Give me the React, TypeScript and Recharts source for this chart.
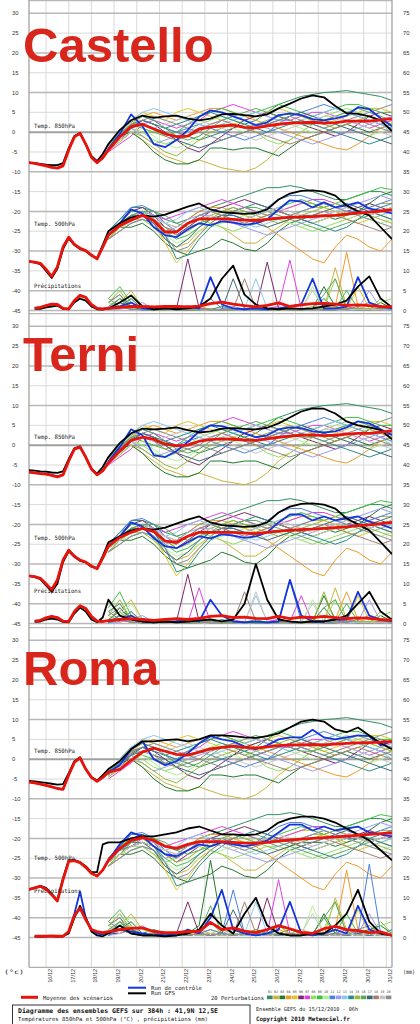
import React from 'react';
import { LineChart, Line, XAxis, YAxis, CartesianGrid } from 'recharts';

// ---------- axes / categories ----------
// x = forecast step (6 h) since 15/12/2010 06h
const STEPS = [0,1,2,3,4,5,6,7,8,9,10,11,12,13,14,16,18,20,22,24,26,28,30,32,34,36,38,40,42,44,46,48,50,52,54,56,58,60,62,64];
const PSTEPS = [14,16,18,20,22,24,26,28,30,32,34,36,38,40,42,44,46,48,50,52,54,56,58,60,62,64];
const DAY_TICKS = [3,7,11,15,19,23,27,31,35,39,43,47,51,55,59,63];
const DAY_LABELS = ['16/12','17/12','18/12','19/12','20/12','21/12','22/12','23/12','24/12','25/12','26/12','27/12','28/12','29/12','30/12','31/12'];
const T_TICKS = [30,25,20,15,10,5,0,-5,-10,-15,-20,-25,-30,-35,-40,-45];
const MM_TICKS = [75,70,65,60,55,50,45,40,35,30,25,20,15,10,5,0];
const T_LIGHT = [25,15,5,-5,-15,-25,-35];
const T_DARK = [30,20,10,-10,-20,-30,-40,-45];

// ---------- Castello ----------
const C_T850_MEAN = [-7.7,-7.9,-8.2,-8.5,-8.9,-9.1,-8.5,-4.5,-1.2,-0.3,-3,-6.3,-7.7,-6.5,-4.5, -1.2,1.4,2.0,0.8,-0.4,-1.1,-1.0,0.8,1.3,1.6, 1.8,1.2,1.1,1.6,2.0,2.3,2.4,2.5,2.3,2.4, 2.8,2.8,2.8,3.1,3.4];
const C_T850_GFS = [-7.7,-7.8,-8.0,-8.2,-8.3,-8.3,-7.8,-4,-1,-0.2,-3,-6,-7.3,-5.5,-3, 0.5,3,4.2,3.6,4,4.2,3.4,3,3.4,4.5, 4.6,4.3,4,4.5,6,7.2,8.5,9.3,8.8,6.6, 4.8,4.6,4.0,3.0,0.3];
const C_T850_CTRL = [-7.7,-7.9,-8.1,-8.4,-8.8,-9.0,-8.4,-4.4,-1.1,-0.2,-3,-6.2,-7.6,-6.4,-4.2, -0.5,4.5,1.5,-3,-3.8,-2,0.5,3.9,5.5,5, 4,3,1.7,2.5,4.3,4.7,4.3,3.3,3,3.5, 4.2,6.3,5.8,3.5,1.5];
const C_T500_MEAN = [-32.6,-32.8,-33.1,-34.6,-36.4,-34,-29,-26.5,-28.3,-29.3,-29.9,-31,-32,-29,-26, -23.6,-22.2,-21,-22.3,-25.2,-25.2,-23,-21.9,-21.9,-21.9, -22,-22.2,-22.3,-22,-21.7,-21.5,-21.4,-21.3,-21.1,-21, -20.7,-20.4,-20.2,-19.9,-19.6];
const C_T500_GFS = [-32.6,-32.9,-33.3,-35,-36.8,-34.5,-29.5,-26.8,-28.5,-29.5,-30,-31.2,-31.8,-28.5,-25, -23,-21.5,-21,-21.3,-20.8,-19.8,-18.8,-18,-19.5,-20.2, -20.4,-20.6,-20.4,-19.5,-17,-15.5,-14.8,-14.7,-15,-16, -18.5,-20,-21,-24,-27];
const C_T500_CTRL = [-32.6,-32.8,-33.1,-34.6,-36.4,-34,-29,-26.5,-28.3,-29.3,-29.9,-31,-32,-29,-26, -23,-19.5,-20.5,-24,-26,-26.5,-24.5,-23,-23.5,-22.5, -22.8,-23.4,-23,-22,-19.5,-17.2,-17.5,-19,-17.7,-19, -18.5,-17.7,-19.3,-19.8,-20.5];
const C_PR_MEAN = [null,0.6,0.8,1.2,1.6,1.5,0.5,0.4,2.5,3.8,3.3,1.5,0.5,0.4,0.6, 0.8,1.0,1.0,0.9,1.0,1.0,0.9,1.1,1.7,2.1, 1.6,1.2,0.9,1.3,1.9,1.0,1.4,1.7,1.8,1.6, 1.3,1.4,1.2,1.0,0.9];
const C_PR_GFS = [null,0.4,0.4,0.8,1.0,1.2,0.4,0.3,2,3,2.5,1,0.3,0.2,0.5, 2,3.8,1,0.3,0.5,0.3,0.5,1,3,8, 11.3,4,1.5,0.5,0.3,0.5,0.4,0.5,1,1.5, 2.5,6,8.6,3,0.8];
const C_PR_CTRL = [null,0.6,0.8,1.2,1.6,1.5,0.5,0.4,2.5,3.8,3.3,1.5,0.5,0.4,0.6, 1,2,0.5,0.3,0.5,0.5,1,0.5,8.4,1.5, 0.5,0.3,0.5,0.3,0.5,1,1.5,8,0.5,0.5, 1,8.4,2,1,0.5];

// ---------- Terni ----------
const T_T850_MEAN = [-6.8,-7,-7.2,-7.3,-7.6,-8,-7.5,-4,-1,-0.5,-3,-6,-7.5,-6.5,-4.5, -1.5,1.2,2.0,1.5,0.3,-0.2,0,1,1.4,1.6, 1.5,1.3,1.2,1.6,2.0,2.3,2.5,2.6,2.4,2.5, 2.8,3.0,3.0,3.3,3.6];
const T_T850_GFS = [-6.3,-6.4,-6.6,-6.7,-6.9,-7.0,-6.6,-3.5,-0.8,-0.3,-3,-6,-7.2,-5.5,-3, 0.5,3,4.2,4,4.2,4.5,3.8,3.2,3.5,4.2, 4.3,4.1,4,4.4,5.5,7,8.5,9.3,9.2,8, 6,5,4.5,3.8,1.5];
const T_T850_CTRL = [-6.8,-7,-7.1,-7.2,-7.5,-7.9,-7.4,-3.9,-0.9,-0.4,-3,-5.9,-7.4,-6.4,-4.2, -0.5,4,2.5,-2.5,-3,-1.5,0.8,3.5,5,4.8, 4,3,2,2.5,4,4.5,4.3,3.5,3.2,3.5, 4.5,6,5.5,4,2.5];
const T_T500_MEAN = [-33,-33.2,-33.6,-35,-36.5,-34,-29,-26.5,-28,-29,-29.5,-30.5,-31.2,-28.5,-25.5, -23.3,-22,-21,-21.8,-24.2,-24.5,-23,-22,-22,-22, -22,-22.2,-22.3,-22,-21.7,-21.5,-21.3,-21.2,-21,-20.8, -20.6,-20.3,-20.1,-19.8,-19.5];
const T_T500_GFS = [-33,-33.3,-33.8,-35.4,-37,-35,-29.5,-26.8,-28.2,-29.2,-29.6,-30.7,-31,-28,-24.5, -23,-21.5,-21,-21.3,-20.8,-19.8,-18.8,-18,-19.5,-20.2, -20.4,-20.6,-20.4,-19.5,-17,-15.5,-14.8,-14.7,-15,-16, -18.5,-20,-21.5,-24.5,-27.5];
const T_T500_CTRL = [-33,-33.2,-33.6,-35,-36.5,-34,-29,-26.5,-28,-29,-29.5,-30.5,-31.2,-28.5,-25.5, -23,-19.5,-20.5,-23.5,-25.5,-26,-24.5,-23,-23.5,-22.5, -22.8,-23.4,-23,-22,-19.5,-17.5,-17.5,-19,-18,-19, -18.5,-18,-19.3,-20,-21];
const T_PR_MEAN = [null,0.6,0.8,1.4,1.8,1.5,0.6,0.5,3,4.5,3.8,1.8,0.6,0.5,0.7, 1,1.2,1.0,0.8,1.0,1.2,1.0,1.3,1.8,2.0, 1.5,1.6,1.3,1.2,1.8,1.2,1.6,1.5,1.8,1.5, 1.2,1.4,1.3,1.0,0.8];
const T_PR_GFS = [null,0.4,0.5,1,1.2,1,0.4,0.3,2.5,4,3,1,0.3,1.5,6, 2,1,0.5,0.3,0.5,0.3,0.5,0.8,1,0.5, 1,5,15,6,1,0.5,0.3,0.5,0.5,1, 2,5,8,3,1];
const T_PR_CTRL = [null,0.6,0.8,1.4,1.8,1.5,0.6,0.5,3,4.5,3.8,1.8,0.6,0.5,0.7, 1,2,0.5,0.3,0.5,0.5,1,0.5,6,2, 0.5,0.3,0.5,0.3,0.5,11,2,0.5,0.5,1, 1,8,2,1,0.5];

// ---------- Roma ----------
const R_T850_MEAN = [-5.8,-6,-6.3,-6.6,-7,-7.4,-7.6,-4,-0.8,0.3,-2.5,-4.6,-5.6,-4.6,-3.3, -2.6,-0.3,1.8,2.8,2.0,1.2,1.0,1.8,2.6,3.0, 3.3,3.0,2.8,3.1,3.4,3.6,3.6,3.7,3.6,3.8, 4.0,4.1,4.2,4.3,4.5];
const R_T850_GFS = [-5.5,-5.6,-5.8,-6.0,-6.2,-6.4,-6.3,-3.5,-0.5,0.5,-2.5,-4.5,-5.4,-4,-2.5, -0.5,2.5,4.5,4.5,4.8,5.0,4.5,5.0,6.0,6.0, 5.8,5.5,5.4,5.8,6.5,8.0,9.5,10,9.5,7.5, 6.8,8.0,6.0,4.0,2.5];
const R_T850_CTRL = [-5.8,-6,-6.3,-6.6,-7,-7.4,-7.6,-4,-0.8,0.3,-2.5,-4.6,-5.6,-4.6,-3.3, -1.5,2.5,4.5,0,-1.5,-0.5,1.5,4,5.8,5, 4.5,3.2,2.5,3.5,5,5.5,5.5,7.4,5.5,5, 5.5,6,5.8,3.5,4.5];
const R_T500_MEAN = [-32.9,-32.5,-32.1,-32.8,-34.2,-35.8,-30.4,-25.8,-25.6,-26.1,-27.3,-28.8,-29.5,-28.0,-25.5, -22.5,-20.5,-19.8,-20.5,-22,-22.5,-21.5,-20.8,-20.8,-20.8, -21,-21.2,-21.2,-21,-20.7,-20.4,-20.2,-20,-19.8,-19.6, -19.4,-19.2,-19,-18.8,-18.6];
const R_T500_GFS = [-32.9,-32.5,-32,-32.5,-34,-35.5,-30,-25.5,-25.5,-26,-27,-28.5,-28.5,-21.5,-21, -21,-20,-19.5,-19.5,-19,-18.5,-17.5,-17,-18,-19, -19,-19.2,-19,-18,-16,-15,-14.5,-14.5,-15,-16, -17.5,-19,-20.5,-23,-25.5];
const R_T500_CTRL = [-32.9,-32.5,-32.1,-32.8,-34.2,-35.8,-30.4,-25.8,-25.6,-26.1,-27.3,-28.8,-29.5,-28.0,-25.5, -21.5,-18.5,-19.5,-22,-24,-24.5,-23,-21.5,-22,-21, -21.5,-22,-21.5,-20.5,-18.5,-16.5,-16.5,-18,-17,-18, -17.5,-17,-18.5,-19,-19.5];
const R_PR_MEAN = [null,0.3,0.3,0.3,0.4,0.3,0.3,1.5,5.5,7.4,4.5,2.0,1.5,1.2,1.5, 2,2.3,2.4,1.5,1.2,1.2,1.5,1.5,3.8,2.0, 2.4,1.6,1.2,2.0,3.0,2.2,1.3,1.0,2.2,2.8, 2.0,1.7,1.2,1.4,0.5];
const R_PR_GFS = [null,0.2,0.2,0.3,0.3,0.2,0.3,1,5,8,5,1.5,0.5,0.3,1, 3,1,0.5,0.5,0.3,0.5,1,2,6,3, 1,6,10,3,1,0.5,0.5,1,1,3, 6,12,4,1,0.5];
const R_PR_CTRL = [null,0.3,0.3,0.3,0.4,0.3,0.3,1.5,6,11.6,5,2,1,0.8,1.2, 2,1.5,1,0.5,1,0.5,2,1,5,12, 2,1,0.5,1,2,9,1,0.5,1,2, 1,8,2,1,0.5];

// ---------- 20 perturbations (temperatures, read on the spaghetti, steps PSTEPS) ----------
const T850_PERTS = [
  [-3.5,-0.5,2,3,2,1,0,-1,-2,-1,0,1,2,3,5,7,8,9,9.5,10,10.2,10.5,10,9.5,9,8],
  [-4,-2,0,-2,-4,-6,-7,-8,-7,-8,-9,-9.5,-10,-9,-7,-4,-2,0,2,3,4,5,4,3,2,3],
  [-3,-1,0,-2,-5,-7,-8,-8,-7,-4,-4,-4.5,-4,-4,-5,-6,-4,-2,-1,0,1,2,1,0,1,2],
  [-4,-1,2,4,5,4,3,4,5,6,6,5,4,3,2,1,0,-1,-2,-3,-4,-4.5,-3,-1,1,2],
  [-3,0,3,5,4,3,5,6,5,4,3,2,3,4,5,6,5,4,3,2,3,4,5,6,6,5],
  [-4,-2,1,3,2,0,-2,-4,-5,-3,-1,1,3,4,5,4,3,2,1,0,-1,0,2,4,5,4],
  [-5,-3,-1,2,3,2,1,2,3,5,6,7,6,5,4,3,3,4,5,5,4,3,2,1,2,3],
  [-3.5,-1,1,0,-2,-3,-2,0,2,3,4,3,2,0,-2,-3,-2,0,2,4,5,6,5,4,3,2],
  [-4,-1,2,1,0,-1,0,2,4,5,6,5,4,5,6,7,6,5,4,5,6,7,7,6,5,5],
  [-4.5,-2,0,1,-1,-3,-4,-3,-1,1,2,1,0,1,2,3,2,1,0,1,2,1,0,-1,0,1],
  [-3,0,3,4,3,1,0,1,2,1,0,-1,-2,-1,0,2,4,5,6,7,6,5,4,3,2,1],
  [-4,-1,1,-1,-3,-2,-1,0,1,2,3,4,3,2,1,0,-1,-2,-3,-2,-1,0,1,2,3,4],
  [-3.5,0,3,5,6,5,4,3,2,1,2,3,4,5,4,3,2,3,4,5,6,5,4,3,2,0],
  [-4,-1.5,1.5,3,2,1,2,3,4,5,4,3,2,1,0,1,2,3,2,1,0,-1,-2,-3,-2,-1],
  [-4.5,-2.5,0,-1,-3,-5,-6,-4,-2,0,1,2,1,2,3,4,5,4,3,2,1,2,3,4,3,2],
  [-3,-0.5,2.5,4,3,1,-1,-2,-1,1,3,4,5,6,5,4,3,2,2,3,4,5,6,5,4,3],
  [-4,-1,1,2,1,0,-2,-3,-4,-3,-2,-1,0,1,2,3,4,5,4,3,2,1,0,-1,-2,-3],
  [-3.5,-1,1.5,2,1,-1,-2,-1,0,2,3,2,1,0,-1,-2,-3,-2,-1,0,1,2,3,2,1,0],
  [-4,-2,0,2,1,2,3,4,3,2,1,0,-1,-2,-1,0,1,2,3,4,4,3,2,1,0,-1],
  [-4,-1,2,3,4,3,2,1,0,-1,-2,-1,0,1,2,3,4,3,2,1,2,3,4,5,6,7],
];
const T500_PERTS = [
  [-25,-22,-19,-19,-20,-22,-23,-22,-20,-19,-18,-17,-16,-15,-14,-14,-13.5,-14,-15,-16,-17,-17,-16,-15,-15,-16],
  [-27,-25,-23,-22,-24,-27,-29,-28,-25,-23,-24,-26,-28,-28,-26,-24,-22,-20,-19,-19,-20,-21,-20,-19,-18,-18],
  [-26,-24,-24,-23,-25,-28,-30,-31,-30,-29,-27,-28,-29.5,-30,-28,-25,-23,-22,-21,-21,-22,-21,-20,-18,-16,-15],
  [-26,-23,-21,-20,-21,-23,-24,-22,-20,-19,-19,-20,-21,-22,-24,-26,-28,-30,-32,-33,-29,-26,-27,-29,-30,-27],
  [-27,-24,-21,-21,-23,-28,-33,-30,-26,-23,-21,-20,-21,-22,-21,-20,-19,-18,-18,-19,-20,-22,-23,-22,-21,-20],
  [-25,-23,-20,-19,-21,-24,-26,-24,-22,-20,-19,-18,-17,-18,-19,-20,-21,-22,-23,-22,-21,-20,-19,-18,-19,-20],
  [-26,-24,-22,-20,-21,-22,-21,-20,-19,-18,-17,-18,-19,-20,-21,-20,-19,-18,-17,-17,-18,-19,-20,-21,-20,-19],
  [-27,-24,-22,-22,-24,-26,-25,-23,-22,-23,-24,-25,-24,-23,-22,-22,-23,-24,-25,-24,-23,-22,-21,-20,-21,-22],
  [-25,-22,-20,-20,-22,-25,-27,-26,-24,-22,-20,-19,-20,-21,-20,-19,-18,-17,-18,-19,-18,-17,-16,-15,-14,-14.5],
  [-26,-24,-23,-22,-23,-26,-28,-27,-25,-24,-23,-22,-21,-20,-21,-22,-23,-24,-23,-22,-21,-20,-21,-22,-23,-22],
  [-25,-22,-19,-18.5,-20,-23,-25,-23,-21,-20,-20,-21,-22,-21,-19,-17,-16,-16,-17,-18,-19,-20,-20,-19,-18,-17],
  [-27,-25,-23,-22,-23,-25,-24,-22,-21,-21,-22,-23,-24,-25,-26,-25,-24,-23,-22,-21,-20,-19,-18,-17,-16,-17],
  [-26,-23,-21,-20,-21,-23,-22,-20,-19,-20,-21,-22,-23,-24,-23,-22,-21,-20,-19,-18,-19,-20,-21,-22,-21,-20],
  [-25,-23,-21,-21,-22,-26,-32,-31,-27,-24,-22,-20,-19,-18,-19,-20,-21,-22,-23,-24,-25,-24,-22,-20,-19,-18],
  [-27,-24,-22,-21,-22,-24,-26,-25,-23,-21,-20,-19,-20,-21,-22,-23,-22,-21,-20,-19,-18,-19,-20,-21,-22,-23],
  [-26,-24,-21,-20,-20,-21,-23,-24,-23,-22,-21,-20,-19,-19,-20,-21,-22,-23,-24,-25,-24,-23,-22,-21,-20,-19],
  [-26,-23,-22,-21,-23,-27,-29,-27,-24,-22,-21,-21,-22,-23,-24,-23,-22,-21,-21,-20,-19,-18,-19,-20,-21,-22],
  [-25,-23,-22,-21,-22,-24,-25,-23,-21,-20,-21,-22,-23,-22,-21,-20,-21,-22,-21,-20,-21,-22,-23,-24,-25,-24],
  [-26,-24,-22,-21,-22,-23,-24,-23,-22,-21,-22,-23,-22,-21,-20,-19,-20,-21,-22,-21,-20,-19,-20,-21,-20,-19],
  [-27,-25,-23,-22,-23,-26,-30,-29,-26,-23,-21,-20,-19,-20,-21,-22,-21,-20,-19,-18,-19,-20,-21,-22,-23,-24],
];

// ---------- 20 perturbations (precipitation mm, steps PSTEPS) ----------
const C_PR_PERTS = [
  [2,4,1,0.3,0.2,0.5,0.2,0.2,0.3,0.2,1,0.3,0.2,0.2,0.2,0.3,0.2,0.3,0.5,3,0.5,0.2,0.2,0.3,0.5,1],
  [1,2,5,1,0.2,0.2,0.3,0.2,0.2,0.2,0.3,0.2,0.2,0.3,0.2,0.2,0.2,0.3,1,0.5,10.8,1,0.3,0.2,0.2,0.3],
  [0.5,3,1,0.2,1,0.3,0.2,0.2,0.2,0.3,0.2,0.2,0.3,0.2,0.2,0.2,0.3,0.2,0.5,6,1,0.3,0.2,0.3,2,0.5],
  [0.3,1,2,0.3,0.2,0.2,0.3,0.2,1,0.3,0.2,0.2,0.2,0.3,0.2,0.2,0.2,0.3,0.2,0.5,1,14.7,1,0.3,0.2,0.3],
  [1,0.3,3,0.5,0.2,0.2,0.2,0.3,0.2,0.2,0.3,0.2,0.2,0.2,0.3,1,0.3,0.2,0.2,0.3,0.5,0.3,6,0.5,0.2,0.3],
  [0.3,0.5,1,0.2,0.2,0.3,0.5,13,0.5,0.2,0.2,0.3,0.2,0.2,12.2,0.5,0.2,0.2,0.3,0.2,0.2,0.3,0.2,0.2,0.3,0.2],
  [0.2,1,0.3,0.2,0.3,0.2,0.2,0.3,0.2,0.2,0.3,0.2,0.2,0.3,0.5,1,12.7,0.5,0.2,0.3,0.2,1,0.3,0.2,0.2,0.3],
  [2,1,0.3,0.2,0.2,0.3,0.2,1,0.3,0.2,0.2,0.3,0.2,0.2,0.3,0.2,0.2,0.2,0.3,0.5,8,0.5,0.3,0.2,2,3],
  [3,6,2,0.3,0.2,0.2,0.3,0.2,0.2,0.3,0.2,0.2,0.3,1,0.2,0.2,0.3,0.2,0.2,0.3,0.5,5,0.5,0.2,0.3,0.2],
  [1,2,4,1,0.3,0.2,0.2,0.3,0.2,0.2,0.3,0.2,0.2,0.2,0.3,0.2,0.2,0.3,6,0.5,0.2,0.3,0.2,0.2,0.3,0.2],
  [0.3,1,0.3,0.2,0.2,0.3,0.2,0.2,0.3,3,0.5,0.2,0.2,0.3,0.2,0.2,0.3,0.2,0.2,0.2,0.3,0.2,0.2,0.3,0.2,0.2],
  [0.2,0.3,1,2,0.3,0.2,0.2,0.3,0.2,0.2,0.3,1,0.3,0.2,0.2,0.3,0.2,0.2,0.3,0.2,0.2,0.3,0.5,5,0.5,0.2],
  [1,2,0.3,0.2,0.2,0.3,0.2,0.2,0.3,0.2,0.2,0.3,0.5,8,0.5,0.2,0.2,0.3,0.2,0.2,0.3,0.2,0.2,0.3,0.2,0.2],
  [0.2,1,3,0.3,0.2,0.2,0.3,0.2,0.2,0.3,0.2,0.2,0.3,0.2,0.2,0.3,0.2,0.2,0.3,0.2,0.2,0.3,0.2,0.2,0.3,1],
  [2,5,1,0.3,0.2,0.2,0.3,0.2,0.2,0.3,0.2,0.2,0.3,0.2,0.2,0.3,0.2,0.2,0.3,0.2,0.2,0.3,0.5,0.3,3,0.5],
  [1,3,0.3,0.2,0.2,0.3,0.2,0.2,0.3,0.2,0.2,0.3,0.2,0.2,0.3,0.2,0.2,0.3,0.5,4,8,0.5,0.3,0.2,0.2,0.3],
  [0.3,2,1,0.2,0.2,0.3,0.2,0.2,0.3,0.2,0.2,8,0.5,0.2,0.2,0.3,0.2,0.2,0.3,0.2,0.2,0.3,0.2,0.2,0.3,0.2],
  [3,1,0.3,0.2,0.2,0.3,0.2,0.2,0.3,0.2,0.2,0.3,8,0.5,0.2,0.3,0.2,0.2,0.3,0.2,0.2,0.3,0.2,0.2,0.3,0.2],
  [1,0.3,2,0.3,0.2,0.3,0.2,0.2,0.3,0.2,0.2,0.3,0.2,0.2,0.3,0.2,0.2,0.3,5,0.5,0.2,0.3,0.2,0.2,0.3,0.2],
  [2,4,0.3,0.2,0.2,0.3,0.2,0.2,0.3,0.2,0.2,0.3,0.2,0.2,0.3,0.2,0.2,0.3,0.2,0.2,0.3,0.2,1,2,0.5,0.3],
];
const T_PR_PERTS = [
  [3,5,1,0.3,0.2,0.5,0.2,0.2,0.3,0.2,1,0.3,0.2,0.2,0.2,0.3,0.2,0.3,0.5,4,0.5,0.2,0.2,0.3,0.5,1],
  [1,3,6,1,0.2,0.2,0.3,0.2,0.2,0.2,0.3,0.2,0.2,0.3,0.2,0.2,0.2,0.3,1,0.5,9,1,0.3,0.2,0.2,0.3],
  [0.5,4,1,0.2,1,0.3,0.2,0.2,0.2,0.3,0.2,0.2,0.3,0.2,0.2,0.2,0.3,0.2,0.5,7,1,0.3,0.2,0.3,2,0.5],
  [0.3,1,2,0.3,0.2,0.2,0.3,0.2,1,0.3,0.2,0.2,0.2,0.3,0.2,0.2,0.2,0.3,0.2,0.5,1,8,1,0.3,0.2,0.3],
  [1,0.3,3,0.5,0.2,0.2,0.2,0.3,0.2,0.2,0.3,0.2,0.2,0.2,0.3,1,0.3,0.2,0.2,0.3,0.5,0.3,7,0.5,0.2,0.3],
  [0.3,0.5,1,0.2,0.2,0.3,0.5,12.4,0.5,0.2,0.2,0.3,0.2,0.2,0.5,0.5,0.2,0.2,0.3,0.2,0.2,0.3,0.2,0.2,0.3,0.2],
  [0.2,1,0.3,0.2,0.3,0.2,0.2,0.3,9,0.2,0.3,0.2,0.2,0.3,0.5,1,0.5,7,0.2,0.3,0.2,1,0.3,0.2,0.2,0.3],
  [2,1,0.3,0.2,0.2,0.3,0.2,1,0.3,0.2,0.2,0.3,0.2,0.2,0.3,0.2,0.2,0.2,0.3,0.5,6,0.5,0.3,0.2,2,3],
  [4,8,2,0.3,0.2,0.2,0.3,0.2,0.2,0.3,0.2,0.2,0.3,1,0.2,0.2,0.3,0.2,0.2,0.3,0.5,5,0.5,0.2,0.3,0.2],
  [1,2,5,1,0.3,0.2,0.2,0.3,0.2,0.2,0.3,0.2,0.2,0.2,0.3,0.2,0.2,0.3,6,0.5,0.2,0.3,0.2,0.2,0.3,0.2],
  [0.3,1,0.3,0.2,0.2,0.3,0.2,0.2,0.3,1,0.5,0.2,0.2,0.3,0.2,0.2,11,0.5,0.2,0.2,0.3,0.2,0.2,0.3,0.2,0.2],
  [0.2,0.3,1,2,0.3,0.2,0.2,0.3,0.2,0.2,0.3,1,0.3,0.2,0.2,0.3,0.2,0.2,0.3,0.2,0.2,0.3,0.5,6,0.5,0.2],
  [1,2,0.3,0.2,0.2,0.3,0.2,0.2,0.3,0.2,0.2,0.3,0.5,7,0.5,0.2,0.2,0.3,0.2,0.2,0.3,0.2,0.2,0.3,0.2,0.2],
  [0.2,1,3,0.3,0.2,0.2,0.3,0.2,0.2,0.3,0.2,0.2,0.3,0.2,0.2,0.3,0.2,0.2,0.3,0.2,0.2,0.3,0.2,0.2,0.3,1],
  [2,6,1,0.3,0.2,0.2,0.3,0.2,0.2,0.3,0.2,0.2,0.3,0.2,0.2,0.3,0.2,0.2,0.3,8,0.2,0.3,0.5,0.3,3,0.5],
  [1,3,0.3,0.2,0.2,0.3,0.2,0.2,0.3,0.2,0.2,0.3,0.2,0.2,0.3,0.2,0.2,0.3,0.5,4,6,0.5,0.3,0.2,0.2,0.3],
  [0.3,2,1,0.2,0.2,0.3,0.2,0.2,0.3,0.2,0.2,0.5,0.5,0.2,0.2,0.3,0.2,0.2,0.3,0.2,0.2,0.3,0.2,0.2,0.3,0.2],
  [3,1,0.3,0.2,0.2,0.3,0.2,0.2,0.3,0.2,0.2,0.3,8,0.5,0.2,0.3,0.2,0.2,0.3,0.2,0.2,0.3,0.2,0.2,0.3,0.2],
  [1,0.3,2,0.3,0.2,0.3,0.2,0.2,0.3,0.2,0.2,0.3,0.2,8,0.3,0.2,0.2,0.3,5,0.5,0.2,0.3,0.2,0.2,0.3,0.2],
  [2,4,0.3,0.2,0.2,0.3,0.2,0.2,0.3,0.2,0.2,0.3,0.2,0.2,0.3,0.2,0.2,0.3,0.2,0.2,0.3,0.2,1,2,0.5,0.3],
];
const R_PR_PERTS = [
  [3,5,2,1,0.5,1,0.5,1,2,4,1,0.5,1,0.5,1,3,1,0.5,1,5,1,0.5,1,2,1,0.5],
  [2,3,6,2,1,0.5,1,0.5,1,2,1,0.5,1,2,1,0.5,1,2,1,0.5,10,2,1,0.5,1,0.5],
  [1,4,2,1,2,1,0.5,1,3,19.5,3,1,0.5,1,0.5,1,2,1,0.5,6,1,0.5,1,2,3,1],
  [0.5,2,3,1,0.5,1,0.5,1,2,1,0.5,1,0.5,1,0.5,2,1,0.5,1,0.5,2,17,2,1,0.5,1],
  [2,1,4,1,0.5,1,0.5,1,0.5,1,2,1,0.5,1,0.5,3,1,0.5,1,0.5,1,0.5,7,1,0.5,1],
  [1,1,2,0.5,1,0.5,1,9,1,0.5,1,0.5,1,0.5,10,1,0.5,1,0.5,1,0.5,1,0.5,1,0.5,1],
  [0.5,2,1,0.5,1,0.5,1,0.5,1,0.5,1,0.5,1,0.5,1,14.6,1,0.5,1,0.5,1,2,1,0.5,1,0.5],
  [3,2,1,0.5,1,0.5,1,2,1,0.5,1,0.5,1,0.5,1,0.5,1,0.5,1,2,9,1,0.5,1,3,4],
  [4,7,3,1,0.5,1,0.5,1,0.5,1,0.5,1,0.5,2,1,0.5,1,0.5,1,0.5,1,6,1,0.5,1,0.5],
  [2,3,5,2,1,0.5,1,0.5,1,0.5,1,0.5,1,0.5,1,0.5,1,0.5,8,1,0.5,1,0.5,1,0.5,1],
  [1,2,1,0.5,1,0.5,1,0.5,1,2,1,12,1,0.5,1,0.5,1,0.5,1,0.5,1,0.5,1,18.5,1,0.5],
  [0.5,1,2,3,1,0.5,1,0.5,1,0.5,1,2,1,0.5,1,0.5,1,0.5,1,0.5,1,0.5,1,6,1,0.5],
  [2,3,1,0.5,1,0.5,1,0.5,1,0.5,1,0.5,1,9,1,0.5,1,0.5,1,0.5,1,0.5,1,0.5,1,0.5],
  [0.5,2,4,1,0.5,1,0.5,1,0.5,1,0.5,1,0.5,1,0.5,1,0.5,1,0.5,1,0.5,1,0.5,1,0.5,2],
  [3,6,2,1,0.5,1,0.5,1,0.5,1,0.5,1,0.5,1,0.5,1,0.5,1,0.5,1,0.5,1,2,1,4,1],
  [2,4,1,0.5,1,0.5,1,0.5,1,8,1,0.5,1,0.5,1,0.5,1,0.5,1,5,9,1,0.5,1,0.5,1],
  [1,3,2,0.5,1,0.5,1,0.5,1,0.5,1,7,1,0.5,1,0.5,1,0.5,1,0.5,1,0.5,1,0.5,1,0.5],
  [4,2,1,0.5,1,0.5,1,0.5,1,0.5,1,0.5,9,1,0.5,1,0.5,1,0.5,1,0.5,1,0.5,1,0.5,1],
  [2,1,3,1,0.5,1,0.5,1,0.5,1,0.5,1,0.5,1,0.5,1,0.5,1,6,1,0.5,1,0.5,1,0.5,1],
  [3,5,1,0.5,1,0.5,1,0.5,1,0.5,1,0.5,1,0.5,1,0.5,1,0.5,1,0.5,1,0.5,2,3,1,0.5],
];

// ---------- styles ----------
const PERT_COLORS = ['#2f8f5f','#c8b43c','#1f7a2a','#ee9a2a','#d8c828','#7a2a6a','#e040e0','#90e060','#40c040','#b0f090','#4a80e0','#9a9af0','#88c8f0','#2a8a8a','#98b838','#5aa85a','#3a6a78','#a08070','#c4c4c4','#8c8c8c'];
const MEAN_RED = '#e8140c';
const CTRL_BLUE = '#1434dc';
const TITLE_RED = '#d8261c';
const GRID_LIGHT = '#d9d9d9';
const GRID_DARK = '#b8b8b8';
const GRID_ZERO = '#a0a0a0';
const GRID_BORDER = '#9a9a9a';
const MONO = "'DejaVu Sans Mono', monospace";
const SANS = "'Liberation Sans', Arial, sans-serif";
const PX_PER_UNIT = 3.962;
const Y_TOP = 33.36;
const TOP_LINE = 33.2;
const X_AXIS_H = 40;

const PANELS = [
  { key: 'castello', title: 'Castello', top: 0, plotH: 313.4, showX: false, titleY: 62, l850: 125.7, l500: 224.3, lpr: 285.7,
    t850: [C_T850_MEAN, C_T850_GFS, C_T850_CTRL], t500: [C_T500_MEAN, C_T500_GFS, C_T500_CTRL], pr: [C_PR_MEAN, C_PR_GFS, C_PR_CTRL], prPerts: C_PR_PERTS },
  { key: 'terni', title: 'Terni', top: 313.4, plotH: 314, showX: false, titleY: 371, l850: 437, l500: 538, lpr: 591,
    t850: [T_T850_MEAN, T_T850_GFS, T_T850_CTRL], t500: [T_T500_MEAN, T_T500_GFS, T_T500_CTRL], pr: [T_PR_MEAN, T_PR_GFS, T_PR_CTRL], prPerts: T_PR_PERTS },
  { key: 'roma', title: 'Roma', top: 627.4, plotH: 340.3, showX: true, titleY: 685, l850: 751, l500: 857.7, lpr: 890.7,
    t850: [R_T850_MEAN, R_T850_GFS, R_T850_CTRL], t500: [R_T500_MEAN, R_T500_GFS, R_T500_CTRL], pr: [R_PR_MEAN, R_PR_GFS, R_PR_CTRL], prPerts: R_PR_PERTS },
];

function series(steps: number[], vals: (number | null)[]) {
  return steps.map((s, i) => ({ s, v: vals[i] }));
}

function renderLine(key: string, data: any[], axis: any, color: string, width: number) {
  return (
    <Line key={key} data={data} dataKey="v" xAxisId={0} yAxisId={axis} type="linear" stroke={color}
      strokeWidth={width} dot={false} activeDot={false} isAnimationActive={false} strokeLinejoin="round" />
  );
}

const LeftTick = (props: any) => (
  <text x={12} y={props.y + 2.1} fontSize={5.9} fontFamily={SANS} fill="#333">{props.payload.value}</text>
);
const RightTick = (props: any) => (
  <text x={403} y={props.y + 2.1} fontSize={5.9} fontFamily={SANS} fill="#333">{props.payload.value}</text>
);
const DayTick = (props: any) => {
  const idx = DAY_TICKS.indexOf(props.payload.value);
  const ax = props.x + 6;
  const ay = props.y + 1.5;
  return (
    <text x={ax} y={ay} transform={`rotate(-90 ${ax} ${ay})`} textAnchor="end" fontSize={5.8} fontFamily={SANS} fill="#333"
      textLength={14} lengthAdjust="spacingAndGlyphs">{DAY_LABELS[idx]}</text>
  );
};

function Panel({ cfg }: { cfg: any }) {
  const yMin = Y_TOP - cfg.plotH / PX_PER_UNIT;
  const height = cfg.plotH + (cfg.showX ? X_AXIS_H : 0);
  const items: any[] = [];
  T850_PERTS.forEach((a, i) => items.push(renderLine(`p850-${i}`, series(PSTEPS, a), 0, PERT_COLORS[i], 1)));
  T500_PERTS.forEach((a, i) => items.push(renderLine(`p500-${i}`, series(PSTEPS, a), 0, PERT_COLORS[i], 1)));
  cfg.prPerts.forEach((a: number[], i: number) => items.push(renderLine(`ppr-${i}`, series(PSTEPS, a), 'mm', PERT_COLORS[i], 1)));
  const groups: [string, any][] = [['t850', 0], ['t500', 0], ['pr', 'mm']];
  groups.forEach(([k, ax]) => {
    const [, gfs, ctrl] = cfg[k];
    items.push(renderLine(`${k}-ctrl`, series(STEPS, ctrl), ax, CTRL_BLUE, 1.8));
    items.push(renderLine(`${k}-gfs`, series(STEPS, gfs), ax, '#000000', 1.8));
  });
  groups.forEach(([k, ax]) => {
    const [mean] = cfg[k];
    items.push(renderLine(`${k}-mean`, series(STEPS, mean), ax, MEAN_RED, 2.8));
  });
  return (
    <div style={{ position: 'absolute', left: 0, top: cfg.top }}>
      <LineChart width={420} height={height} margin={{ top: 0, right: 0, bottom: 0, left: 0 }}>
        <CartesianGrid horizontal={false} verticalValues={DAY_TICKS} stroke={GRID_LIGHT} />
        <CartesianGrid vertical={false} horizontalValues={T_LIGHT} stroke={GRID_LIGHT} />
        <CartesianGrid vertical={false} horizontalValues={T_DARK} stroke={GRID_DARK} strokeWidth={1.5} />
        <CartesianGrid vertical={false} horizontalValues={[TOP_LINE]} stroke={GRID_DARK} strokeWidth={1.2} />
        <CartesianGrid vertical={false} horizontalValues={[0]} stroke={GRID_ZERO} strokeWidth={2} />
        <CartesianGrid horizontal={false} verticalValues={[0, 64]} stroke={GRID_BORDER} strokeWidth={1.2} />
        <XAxis xAxisId={0} dataKey="s" type="number" domain={[0, 64]} allowDataOverflow ticks={DAY_TICKS} interval={0}
          hide={!cfg.showX} height={X_AXIS_H} tickSize={0} tickMargin={0} tickLine={false}
          axisLine={{ stroke: GRID_BORDER }} tick={DayTick} />
        <YAxis yAxisId={0} orientation="left" type="number" width={29} domain={[yMin, Y_TOP]} allowDataOverflow
          ticks={T_TICKS} interval={0} axisLine={false} tickLine={false} tick={LeftTick} />
        <YAxis yAxisId="mm" orientation="right" type="number" width={28} domain={[yMin + 45, Y_TOP + 45]} allowDataOverflow
          ticks={MM_TICKS} interval={0} axisLine={false} tickLine={false} tick={RightTick} />
        {items}
      </LineChart>
    </div>
  );
}

function Overlay() {
  const small = { fontFamily: MONO, fontSize: 6, fill: '#222' } as const;
  return (
    <svg width={420} height={1024} style={{ position: 'absolute', left: 0, top: 0, pointerEvents: 'none' }}>
      {PANELS.map((p) => (
        <g key={p.key}>
          <text x={23} y={p.titleY} fontFamily={SANS} fontWeight="bold" fontSize={49} fill={TITLE_RED}>{p.title}</text>
          <text x={34} y={p.l850 + 2} {...small} textLength={41} lengthAdjust="spacingAndGlyphs">Temp. 850hPa</text>
          <text x={34} y={p.l500 + 2} {...small} textLength={41} lengthAdjust="spacingAndGlyphs">Temp. 500hPa</text>
          <text x={34} y={p.lpr + 2} {...small} textLength={47} lengthAdjust="spacingAndGlyphs">Précipitations</text>
        </g>
      ))}
      <text x={4} y={974} {...small} textLength={20} lengthAdjust="spacingAndGlyphs">(°c)</text>
      <text x={403} y={974} {...small} textLength={12} lengthAdjust="spacingAndGlyphs">(mm)</text>

      {/* legend */}
      <line x1={21} x2={38} y1={997.3} y2={997.3} stroke={MEAN_RED} strokeWidth={3} />
      <text x={43} y={999.5} {...small} fontSize={5.6} textLength={70} lengthAdjust="spacingAndGlyphs">Moyenne des scénarios</text>
      <line x1={128} x2={146} y1={987.7} y2={987.7} stroke={CTRL_BLUE} strokeWidth={2} />
      <line x1={128} x2={146} y1={993.3} y2={993.3} stroke="#000" strokeWidth={2} />
      <text x={151} y={989.6} {...small} fontSize={5.6} textLength={51} lengthAdjust="spacingAndGlyphs">Run de contrôle</text>
      <text x={151} y={995.2} {...small} fontSize={5.6} textLength={24} lengthAdjust="spacingAndGlyphs">Run GFS</text>
      <text x={211} y={999.5} {...small} fontSize={5.6} textLength={53} lengthAdjust="spacingAndGlyphs">20 Perturbations</text>
      {PERT_COLORS.map((c, i) => (
        <g key={c + i}>
          <text x={267 + i * 6.25 + 2.8} y={993} fontFamily={MONO} fontSize={3.4} fill="#444" textAnchor="middle">{String(i + 1).padStart(2, '0')}</text>
          <rect x={267 + i * 6.25} y={995.6} width={5.6} height={3.6} fill={c} />
        </g>
      ))}

      {/* footer */}
      <rect x={12.5} y={1005} width={237.5} height={30} fill="#fff" stroke="#333" strokeWidth={1} />
      <text x={18} y={1013.2} fontFamily={MONO} fontWeight="bold" fontSize={6.4} fill="#111" textLength={200} lengthAdjust="spacingAndGlyphs">Diagramme des ensembles GEFS sur 384h : 41,9N 12,5E</text>
      <text x={18} y={1021.3} {...small} fontSize={5.6} textLength={190} lengthAdjust="spacingAndGlyphs">Températures 850hPa et 500hPa (°C) , précipitations (mm)</text>
      <text x={256} y={1011} {...small} fontSize={5.4} textLength={102} lengthAdjust="spacingAndGlyphs">Ensemble GEFS du 15/12/2010 - 06h</text>
      <text x={256} y={1021} fontFamily={MONO} fontWeight="bold" fontSize={6} fill="#111" textLength={94} lengthAdjust="spacingAndGlyphs">Copyright 2010 Meteociel.fr</text>
    </svg>
  );
}

export default function App() {
  return (
    <div style={{ position: 'absolute', left: 0, top: 0, width: 420, height: 1024, background: '#fff', overflow: 'hidden' }}>
      {PANELS.map((p) => <Panel key={p.key} cfg={p} />)}
      <Overlay />
    </div>
  );
}
